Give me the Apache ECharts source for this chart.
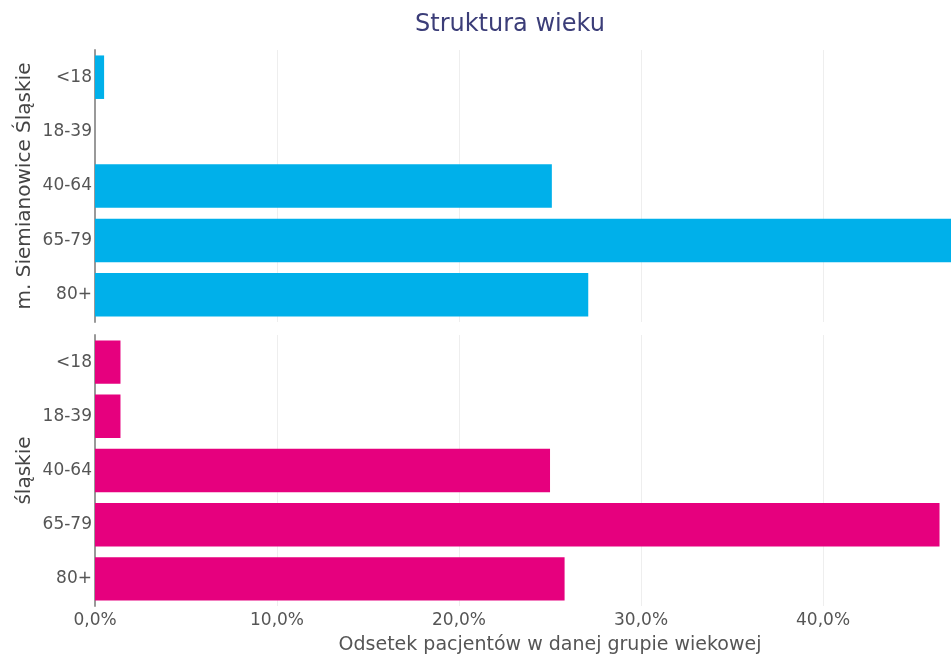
<!DOCTYPE html>
<html lang="pl">
<head>
    <meta charset="UTF-8">
    <title>Struktura wieku</title>
    <style>
        body { margin: 0; background: #fff; }
        #chart { width: 951px; height: 654px; }
    </style>
    <script src="https://cdn.jsdelivr.net/npm/echarts@6/dist/echarts.min.js"></script>
</head>
<body>
    <div id="chart"></div>
    <script>
        // grupy wiekowe
        const ageGroups = ['<18', '18-39', '40-64', '65-79', '80+'];
        // odsetek pacjentów (%)
        const siemianowice = [0.5, 0, 25.1, 47.3, 27.1];
        const slaskie = [1.4, 1.4, 25.0, 46.4, 25.8];
        const xTicks = [0, 10, 20, 30, 40];

        const font = 'DejaVu Sans, Verdana, sans-serif';
        const fmt = v => v.toFixed(1).replace('.', ',') + '%';

        var myChart = echarts.init(document.getElementById('chart'));

        function yAxisFor(gridIndex, name) {
            return {
                type: 'category',
                gridIndex: gridIndex,
                data: ageGroups,
                inverse: true,
                name: name,
                nameLocation: 'middle',
                nameRotate: 90,
                nameGap: 60,
                nameMoveOverlap: false,
                nameTextStyle: { color: '#444', fontSize: 20, fontFamily: font },
                axisLine: { lineStyle: { color: '#999', width: 2 } },
                axisTick: { show: false },
                axisLabel: { color: '#555', fontSize: 17, fontFamily: font, margin: 3 }
            };
        }

        function xAxisFor(gridIndex, showLabels) {
            return {
                type: 'value',
                gridIndex: gridIndex,
                min: 0,
                max: 47.03,
                interval: xTicks[1] - xTicks[0],
                axisLine: { show: false },
                axisTick: { show: false },
                splitLine: { show: true, lineStyle: { color: '#eeeeee', width: 1 } },
                axisLabel: {
                    show: showLabels,
                    color: '#555',
                    fontSize: 17,
                    fontFamily: font,
                    margin: 6,
                    showMaxLabel: false,
                    formatter: fmt
                },
                name: showLabels ? 'Odsetek pacjentów w danej grupie wiekowej' : '',
                nameLocation: 'middle',
                nameGap: 30,
                nameMoveOverlap: false,
                nameTextStyle: { color: '#555', fontSize: 19, fontFamily: font, padding: [0, 0, 0, 54] }
            };
        }

        option = {
            backgroundColor: '#fff',
            animation: false,
            title: {
                text: 'Struktura wieku',
                left: 410,
                top: 8,
                textStyle: { color: '#3b3d78', fontSize: 24, fontWeight: 'normal', fontFamily: font }
            },
            grid: [
                { left: 95, right: 0, top: 50, height: 272, outerBoundsMode: 'none' },
                { left: 95, right: 0, top: 335, height: 271, outerBoundsMode: 'none' }
            ],
            xAxis: [xAxisFor(0, false), xAxisFor(1, true)],
            yAxis: [yAxisFor(0, 'm. Siemianowice Śląskie'), yAxisFor(1, 'śląskie')],
            series: [
                {
                    name: 'm. Siemianowice Śląskie',
                    type: 'bar',
                    xAxisIndex: 0,
                    yAxisIndex: 0,
                    data: siemianowice,
                    barCategoryGap: '20%',
                    itemStyle: { color: '#00b0ea' }
                },
                {
                    name: 'śląskie',
                    type: 'bar',
                    xAxisIndex: 1,
                    yAxisIndex: 1,
                    data: slaskie,
                    barCategoryGap: '20%',
                    itemStyle: { color: '#e6007e' }
                }
            ]
        };

        myChart.setOption(option);
    </script>
</body>
</html>
